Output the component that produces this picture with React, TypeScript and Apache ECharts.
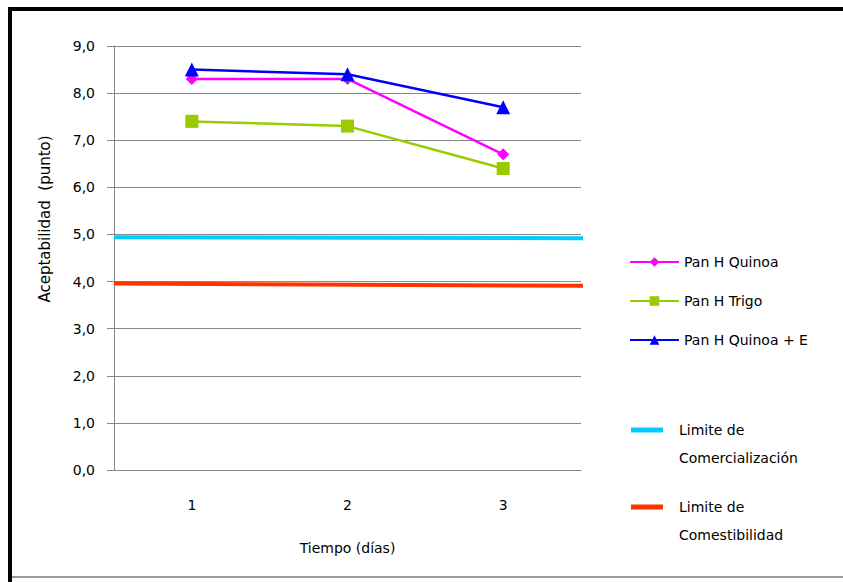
import React, { useEffect, useRef } from "react";
import * as echarts from "echarts";

const days = ["1", "2", "3"];
const yTicks = [0, 1, 2, 3, 4, 5, 6, 7, 8, 9];
const panQuinoa = [8.3, 8.3, 6.7];
const panTrigo = [7.4, 7.3, 6.4];
const panQuinoaE = [8.5, 8.4, 7.7];
// limit lines: [value at start, value at end]
const limiteComercializacion = [4.94, 4.92];
const limiteComestibilidad = [3.96, 3.91];
const limitSpan = [0, 3.06];

const seriesNames = ["Pan H Quinoa", "Pan H Trigo", "Pan H Quinoa + E"];
const limitNames = ["Limite de\nComercialización", "Limite de\nComestibilidad"];

const FONT = "DejaVu Sans";

export default function App() {
  const ref = useRef<HTMLDivElement>(null);
  useEffect(() => {
    if (!ref.current) return;
    const chart = echarts.init(ref.current, undefined, { renderer: "svg" });
    const limitData = (vals: number[]) => [
      [limitSpan[0], vals[0]],
      [limitSpan[1], vals[1]],
    ];
    const limitLegend = (name: string, top: number) => ({
      orient: "vertical",
      left: 626,
      top,
      itemWidth: 32,
      itemHeight: 5,
      data: [{ name, icon: "rect" }],
      formatter: (n: string) => "\n" + n,
      textStyle: {
        color: "#000",
        fontSize: 14,
        lineHeight: 28,
        fontFamily: FONT,
        padding: [0, 0, 0, 11],
      },
    });
    chart.setOption({
      animation: false,
      backgroundColor: "#ffffff",
      textStyle: { fontFamily: FONT },
      grid: { left: 114, right: 262, top: 46, bottom: 112, containLabel: false },
      xAxis: [
        {
          type: "category",
          data: days,
          boundaryGap: true,
          axisLine: { lineStyle: { color: "#888888", width: 1 } },
          axisTick: { show: false },
          axisLabel: { color: "#000", fontSize: 14, margin: 28, fontFamily: FONT },
          name: "Tiempo (días)",
          nameLocation: "middle",
          nameGap: 71,
          nameTextStyle: { color: "#000", fontSize: 14, fontFamily: FONT },
        },
        { type: "value", min: 0, max: 3, show: false },
      ],
      yAxis: {
        type: "value",
        min: yTicks[0],
        max: yTicks[yTicks.length - 1],
        interval: 1,
        axisLine: { show: true, lineStyle: { color: "#888888", width: 1 } },
        axisTick: { show: true, length: 7, lineStyle: { color: "#888888" } },
        axisLabel: {
          color: "#000",
          fontSize: 14,
          margin: 19,
          fontFamily: FONT,
          formatter: (v: number) => v.toFixed(1).replace(".", ","),
        },
        splitLine: { show: true, lineStyle: { color: "#888888", width: 1 } },
      },
      legend: [
        {
          orient: "vertical",
          left: 624,
          top: 250,
          itemWidth: 49,
          itemHeight: 12,
          itemGap: 25,
          data: seriesNames,
          textStyle: { color: "#000", fontSize: 14, fontFamily: FONT },
        },
        limitLegend(limitNames[0], 383),
        limitLegend(limitNames[1], 460),
      ],
      series: [
        {
          name: seriesNames[0],
          type: "line",
          data: panQuinoa,
          symbol: "diamond",
          symbolSize: 12,
          color: "#ff00ff",
          lineStyle: { width: 2.5, color: "#ff00ff" },
          itemStyle: { color: "#ff00ff" },
          z: 3,
        },
        {
          name: seriesNames[1],
          type: "line",
          data: panTrigo,
          symbol: "rect",
          symbolSize: 13,
          color: "#99cc00",
          lineStyle: { width: 2.5, color: "#99cc00" },
          itemStyle: { color: "#99cc00" },
          z: 3,
        },
        {
          name: seriesNames[2],
          type: "line",
          data: panQuinoaE,
          symbol: "triangle",
          symbolSize: 14,
          color: "#0000ff",
          lineStyle: { width: 2.5, color: "#0000ff" },
          itemStyle: { color: "#0000ff" },
          z: 4,
        },
        {
          name: limitNames[0],
          type: "line",
          xAxisIndex: 1,
          data: limitData(limiteComercializacion),
          symbol: "none",
          clip: false,
          color: "#00ccff",
          lineStyle: { width: 4, color: "#00ccff" },
          itemStyle: { color: "#00ccff" },
          z: 2,
        },
        {
          name: limitNames[1],
          type: "line",
          xAxisIndex: 1,
          data: limitData(limiteComestibilidad),
          symbol: "none",
          clip: false,
          color: "#ff3300",
          lineStyle: { width: 4, color: "#ff3300" },
          itemStyle: { color: "#ff3300" },
          z: 2,
        },
      ],
      graphic: [
        {
          type: "text",
          x: 45,
          y: 219,
          rotation: Math.PI / 2,
          style: {
            text: "Aceptabilidad  (punto)",
            fill: "#000",
            fontSize: 15,
            fontFamily: FONT,
            align: "center",
            verticalAlign: "middle",
          },
        },
        { type: "rect", shape: { x: 8, y: 7, width: 835, height: 4 }, style: { fill: "#000" } },
        { type: "rect", shape: { x: 8, y: 7, width: 4, height: 575 }, style: { fill: "#000" } },
        { type: "rect", shape: { x: 12, y: 576, width: 831, height: 2 }, style: { fill: "#999" } },
      ],
    });
    return () => chart.dispose();
  }, []);
  return (
    <div
      ref={ref}
      style={{ position: "fixed", left: 0, top: 0, width: 843, height: 582, background: "#fff" }}
    />
  );
}
